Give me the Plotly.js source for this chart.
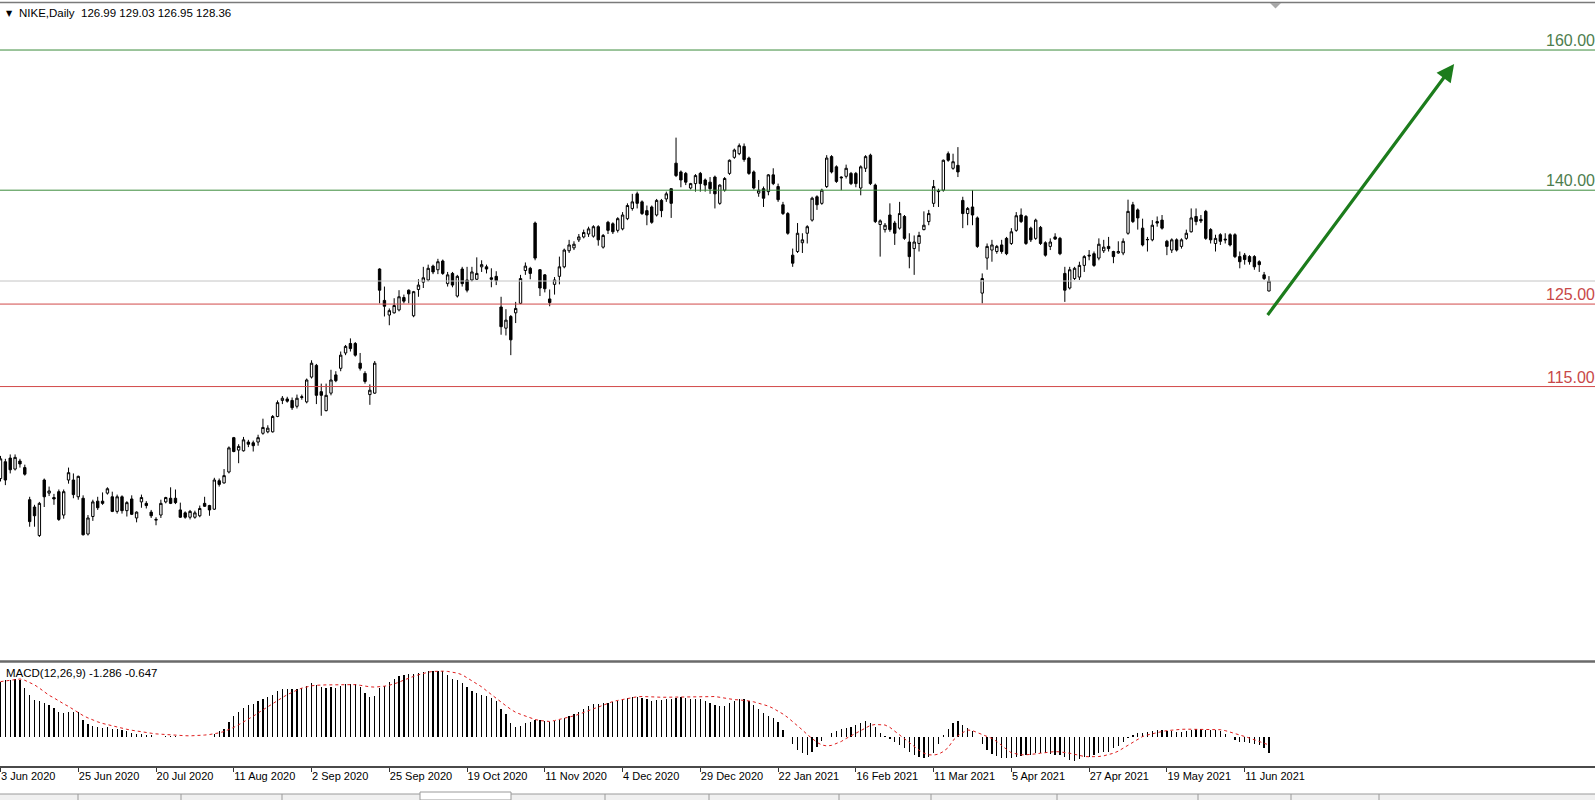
<!DOCTYPE html>
<html>
<head>
<meta charset="utf-8">
<script src="https://cdn.plot.ly/plotly-3.0.1.min.js"></script>
<style>
  html, body { margin: 0; padding: 0; background: #ffffff; }
  #chart { width: 1595px; height: 800px; }
</style>
</head>
<body>
<div id="chart"></div>
<script>
// ---------------- DATA ----------------
const symbolTitle = 'NIKE,Daily';
const lastQuote = ['126.99', '129.03', '126.95', '128.36'];
const macdTitle = 'MACD(12,26,9) -1.286 -0.647';

// daily bars, index 0 = 3 Jun 2020 ... index 261 = 18 Jun 2021
const opens = [
  101.3,103.6,104.1,102.6,103.7,102.8,98.4,97.4,93.5,101.1,
  99.3,98.7,99.5,96.3,101.1,101.1,98.8,98.6,93.7,96.1,
  98.2,98.2,99.3,98.8,96.8,98.8,96.9,98.5,95.9,98.1,
  97.9,96.7,95.6,96.3,98.1,98.6,98.6,97.0,96.6,96.0,
  96.0,96.2,97.9,97.6,97.1,101.0,100.7,102.2,106.9,105.2,
  105.1,106.3,106.2,106.3,107.5,107.7,107.7,109.8,112.0,112.2,
  112.0,111.2,112.4,111.8,115.2,116.8,113.2,110.6,113.0,115.5,
  116.4,118.5,119.8,119.8,117.1,115.7,112.8,113.0,130.0,125.7,
  123.7,124.0,124.4,126.1,127.1,123.6,127.2,128.2,128.5,130.4,
  129.9,131.1,128.0,129.4,126.3,130.0,128.5,128.5,128.6,130.3,
  130.3,128.8,129.0,124.8,121.9,123.5,124.0,125.3,129.8,130.1,
  136.3,129.9,129.2,125.9,127.9,129.0,130.3,132.5,132.9,134.0,
  134.4,134.8,134.5,135.8,133.0,136.4,136.2,135.3,135.5,136.9,
  138.3,140.3,139.2,138.0,138.5,137.4,139.4,139.6,141.0,144.5,
  143.3,143.1,141.1,141.7,143.1,142.2,141.9,142.6,139.0,140.8,
  143.1,145.3,145.8,146.8,145.2,143.3,140.4,141.0,140.6,142.9,
  141.3,138.8,137.6,131.9,132.4,133.6,134.9,136.7,139.9,139.0,
  141.3,145.4,144.0,142.6,142.7,143.1,143.1,141.1,143.8,145.6,
  141.5,136.1,135.4,137.4,136.3,135.6,137.2,133.7,132.8,133.5,
  135.4,136.5,139.0,140.6,140.8,145.8,143.8,144.2,139.4,137.6,
  138.5,137.0,126.7,131.5,132.6,132.4,133.3,134.2,133.5,135.3,
  137.4,137.2,135.6,134.2,135.7,133.6,133.1,134.4,134.2,129.4,
  127.4,128.7,128.9,130.5,131.9,132.1,131.5,132.5,133.1,132.4,
  132.2,132.2,134.9,138.8,138.1,135.6,134.0,134.0,136.5,136.7,
  133.8,132.6,134.0,133.1,134.2,135.1,137.2,136.8,137.9,135.4,
  133.5,134.7,134.1,134.7,134.7,131.7,131.9,131.7,131.7,131.0,
  129.2,126.99
];
const highs = [
  104.4,104.0,104.6,104.6,104.0,103.2,98.8,97.7,98.1,101.3,
  100.2,99.2,99.8,99.8,102.8,102.0,101.7,99.0,96.3,98.4,
  98.8,99.4,100.1,99.5,99.1,99.0,98.2,99.0,96.8,99.1,
  98.2,97.0,96.0,98.4,98.8,100.1,99.8,98.0,96.8,97.0,
  96.9,97.6,98.8,97.7,101.4,101.3,102.6,105.7,107.0,106.0,
  107.0,106.6,106.5,107.3,109.5,108.6,110.0,112.0,112.6,112.5,
  112.4,112.8,112.8,115.0,117.5,117.0,114.3,114.3,116.2,116.0,
  118.7,119.6,120.5,120.0,118.5,116.0,114.2,117.4,130.1,127.6,
  124.6,126.0,127.1,126.5,127.2,127.0,128.6,130.3,130.6,130.6,
  131.4,131.3,129.6,129.6,129.2,130.3,130.3,130.3,131.6,131.2,
  130.6,130.1,129.7,126.2,124.5,123.7,125.5,129.2,130.9,130.3,
  136.5,130.0,129.3,127.2,128.9,131.7,132.8,134.0,133.8,134.8,
  135.4,135.8,136.0,136.0,134.8,136.6,136.4,137.1,137.8,139.0,
  140.3,140.6,139.4,138.7,138.7,139.6,139.6,140.6,141.0,148.0,
  143.5,143.3,141.8,143.0,143.3,142.4,142.6,142.8,141.6,142.6,
  145.0,146.5,147.2,147.2,145.4,143.5,142.2,141.3,143.0,143.8,
  141.7,139.2,137.8,132.8,136.3,134.9,136.0,139.9,140.1,141.0,
  145.6,145.6,144.2,142.7,144.3,143.3,143.3,144.2,145.6,145.8,
  141.7,136.8,136.3,139.0,136.6,139.2,137.4,134.9,134.6,135.1,
  137.9,138.1,142.2,141.0,145.0,146.1,145.8,146.7,139.9,138.5,
  140.8,137.2,129.4,133.5,134.0,133.3,134.0,134.4,135.6,137.8,
  138.3,137.4,135.8,136.9,135.9,133.8,134.2,134.9,134.4,130.3,
  130.3,130.3,131.0,131.9,132.6,132.4,134.2,134.0,134.4,132.5,
  133.8,134.2,139.5,139.2,138.3,136.9,134.4,136.7,137.2,137.4,
  134.0,134.2,134.2,134.2,135.4,138.3,138.3,137.4,138.1,135.6,
  134.7,134.9,134.9,134.9,134.9,132.4,132.2,131.9,131.9,131.2,
  129.6,129.03
];
const lows = [
  100.9,100.4,102.0,102.4,102.8,101.7,94.7,94.7,93.3,97.4,
  98.9,97.7,95.5,95.8,100.6,98.6,98.4,93.5,93.5,95.5,
  97.0,97.7,99.1,96.7,96.5,96.5,96.1,96.3,95.3,97.3,
  97.2,95.9,94.9,95.9,97.9,97.8,97.8,95.9,95.8,95.7,
  95.8,96.0,97.4,96.2,97.0,100.2,100.6,102.0,104.9,103.4,
  105.0,105.6,105.0,105.8,107.3,107.5,107.6,109.7,111.5,111.7,
  110.7,110.9,112.1,111.6,115.0,111.5,109.9,110.5,112.7,114.5,
  116.0,118.2,118.7,118.0,116.1,114.3,111.4,112.9,125.3,123.5,
  122.3,123.9,124.2,125.3,125.3,123.4,126.2,127.4,128.3,129.3,
  129.3,129.2,127.6,127.5,126.1,127.6,126.8,128.3,128.5,129.6,
  129.4,127.5,127.8,121.0,120.9,118.2,122.6,125.2,129.2,128.6,
  131.2,126.3,126.8,124.9,126.5,127.9,130.1,132.2,132.6,133.7,
  134.2,134.4,134.3,133.2,132.8,134.8,134.8,135.0,135.3,136.7,
  138.0,138.3,137.4,136.0,136.2,137.2,137.1,139.2,137.0,142.6,
  141.2,141.5,140.9,140.6,140.6,140.6,140.3,138.3,138.8,140.6,
  142.9,145.1,145.6,144.7,142.9,140.9,139.9,138.5,140.1,141.5,
  139.2,137.4,134.7,130.3,132.2,132.2,133.5,136.5,138.1,138.8,
  141.1,143.1,141.8,140.8,142.4,141.5,141.2,140.1,143.3,141.5,
  136.3,131.7,135.0,135.1,133.3,135.4,134.0,130.1,129.2,132.4,
  135.3,136.0,138.5,138.5,140.6,144.7,143.6,142.6,135.6,136.0,
  136.0,132.9,125.3,129.9,131.0,132.1,132.1,131.9,133.3,135.1,
  136.3,133.3,133.7,134.0,133.3,131.7,132.6,134.0,131.9,125.5,
  127.2,128.5,128.5,129.6,131.2,130.3,131.2,132.2,132.4,130.8,
  132.1,131.9,134.7,136.3,135.4,133.1,132.4,133.8,135.8,135.4,
  131.9,132.2,132.4,132.8,134.0,135.0,136.0,136.3,134.0,133.5,
  132.4,133.3,133.5,133.1,131.5,130.1,130.6,130.6,129.9,129.6,
  128.5,126.95
];
const closes = [
  104.0,101.1,102.5,104.2,103.3,101.9,95.4,96.2,97.9,98.8,
  99.6,98.5,95.7,99.5,102.1,99.1,101.6,93.6,95.9,98.1,
  97.3,97.9,99.9,96.8,98.8,96.9,98.0,96.4,96.7,98.7,
  97.6,96.2,95.7,97.9,98.7,97.9,98.0,96.0,96.0,96.8,
  96.6,97.2,97.5,97.0,101.1,100.5,101.7,105.5,105.0,105.7,
  106.6,106.0,105.8,106.9,108.3,108.2,109.8,111.7,112.3,111.9,
  111.0,112.3,112.5,114.8,117.1,112.7,112.7,112.7,114.8,114.7,
  118.2,119.4,119.1,118.2,116.4,114.6,113.4,117.1,127.1,124.9,
  124.3,125.0,126.2,125.6,126.6,126.9,127.8,128.8,130.1,129.6,
  131.0,129.4,129.2,127.8,129.0,128.0,127.1,129.6,129.4,130.6,
  130.0,128.6,128.4,122.1,123.0,120.3,124.6,128.7,130.4,129.4,
  131.5,127.4,127.3,125.4,128.5,130.3,132.6,133.3,133.4,134.4,
  135.0,135.5,135.8,134.0,134.6,135.3,135.1,136.9,137.4,138.7,
  139.2,139.0,137.6,137.4,136.4,139.4,138.0,140.3,139.0,142.8,
  142.2,141.9,141.7,142.8,141.7,141.5,141.0,140.3,141.5,142.4,
  144.9,146.3,146.9,145.0,143.1,141.1,140.8,139.7,142.9,141.7,
  139.5,137.6,134.9,130.8,134.9,134.0,135.8,139.7,138.8,140.8,
  145.2,143.3,142.0,142.5,143.8,141.7,141.7,144.0,145.4,141.7,
  136.5,136.6,136.0,135.4,134.9,137.6,134.2,131.7,133.7,134.6,
  136.0,137.6,141.3,140.7,144.9,144.9,144.7,143.3,137.6,138.3,
  137.4,133.1,128.7,133.1,133.3,133.1,132.4,132.1,135.1,137.3,
  136.5,133.5,134.0,136.7,133.5,131.9,133.7,134.1,132.1,127.1,
  129.9,130.1,130.5,131.7,131.8,130.5,133.4,133.0,132.8,131.7,
  132.4,133.8,137.9,136.5,137.0,133.3,134.05,136.0,136.3,135.6,
  133.1,134.0,132.6,134.0,134.9,137.0,136.5,136.6,134.2,134.0,
  134.2,133.8,134.0,133.3,131.7,131.0,131.3,131.0,130.3,130.6,
  128.7,128.36
];
// MACD main (histogram) and signal (dotted line)
const macdMain = [
  4.2,4.3,4.3,4.4,4.3,3.7,3.2,2.8,2.7,2.55,
  2.4,2.2,1.9,1.8,1.9,1.9,1.85,1.3,0.95,0.8,
  0.7,0.65,0.7,0.6,0.6,0.5,0.4,0.3,0.2,0.2,
  0.15,0.08,0.0,-0.02,0.02,0.05,0.05,-0.03,-0.06,-0.05,
  -0.06,-0.04,-0.02,-0.05,0.2,0.4,0.6,1.1,1.6,1.9,
  2.2,2.4,2.5,2.7,2.9,3.0,3.2,3.45,3.6,3.65,
  3.6,3.65,3.7,3.85,4.1,3.95,3.8,3.7,3.75,3.7,
  3.85,4.0,4.05,4.0,3.75,3.35,3.0,3.1,3.7,3.9,
  4.2,4.4,4.6,4.7,4.8,4.8,4.85,4.9,5.0,5.05,
  5.05,5.0,4.7,4.4,4.3,4.1,3.8,3.5,3.3,3.2,
  3.1,2.95,2.7,2.1,1.7,1.0,0.7,0.8,1.0,1.1,
  1.3,1.25,1.15,1.1,1.2,1.3,1.45,1.6,1.75,1.9,
  2.1,2.3,2.45,2.5,2.55,2.6,2.65,2.75,2.85,2.95,
  3.05,3.05,2.95,2.85,2.75,2.8,2.8,2.85,2.85,2.95,
  3.0,2.95,2.9,2.9,2.85,2.7,2.55,2.4,2.35,2.35,
  2.55,2.75,2.9,2.85,2.7,2.4,2.1,1.8,1.6,1.4,
  1.1,0.5,0.0,-0.6,-1.0,-1.3,-1.4,-1.15,-0.8,-0.35,
  0.0,0.25,0.45,0.55,0.65,0.75,0.85,1.0,1.15,1.05,
  0.7,0.25,0.05,-0.2,-0.45,-0.65,-0.85,-1.15,-1.4,-1.6,
  -1.65,-1.6,-1.25,-0.6,0.15,0.6,1.0,1.15,0.9,0.65,
  0.4,0.0,-0.55,-1.0,-1.35,-1.5,-1.62,-1.66,-1.62,-1.55,
  -1.5,-1.45,-1.4,-1.3,-1.28,-1.3,-1.32,-1.4,-1.45,-1.55,
  -1.8,-1.9,-1.7,-1.6,-1.55,-1.45,-1.3,-1.2,-1.15,-0.85,
  -0.7,-0.4,-0.1,0.15,0.3,0.3,0.38,0.4,0.46,0.5,
  0.45,0.4,0.38,0.38,0.42,0.46,0.56,0.54,0.5,0.47,
  0.46,0.42,0.2,-0.05,-0.25,-0.4,-0.45,-0.5,-0.6,-0.65,
  -0.85,-1.286
];
const macdSignal = [
  4.2,4.25,4.3,4.35,4.4,4.3,4.15,3.95,3.7,3.4,
  3.15,2.95,2.7,2.5,2.3,2.05,1.8,1.6,1.42,1.25,
  1.12,1.0,0.9,0.8,0.72,0.64,0.55,0.48,0.41,0.35,
  0.3,0.25,0.2,0.17,0.14,0.11,0.09,0.07,0.06,0.05,
  0.06,0.08,0.11,0.15,0.2,0.28,0.38,0.52,0.7,0.9,
  1.1,1.32,1.55,1.8,2.05,2.3,2.52,2.75,2.98,3.2,
  3.4,3.55,3.7,3.8,3.88,3.92,3.95,3.95,3.95,3.95,
  3.97,4.0,3.99,3.97,3.92,3.85,3.8,3.78,3.8,3.85,
  3.92,4.02,4.15,4.32,4.48,4.6,4.72,4.83,4.92,4.98,
  5.0,5.0,4.98,4.92,4.85,4.72,4.5,4.3,4.05,3.8,
  3.5,3.2,2.9,2.6,2.35,2.08,1.85,1.7,1.55,1.4,
  1.3,1.22,1.16,1.15,1.22,1.3,1.38,1.48,1.58,1.7,
  1.82,1.98,2.12,2.25,2.4,2.55,2.68,2.76,2.83,2.9,
  2.98,3.04,3.06,3.06,3.04,3.02,3.0,3.0,3.0,3.0,
  3.0,3.0,3.0,3.0,3.0,3.03,3.05,3.06,3.0,2.9,
  2.85,2.82,2.8,2.78,2.72,2.65,2.56,2.45,2.33,2.15,
  1.95,1.72,1.45,1.15,0.85,0.5,0.15,-0.15,-0.45,-0.65,
  -0.72,-0.68,-0.52,-0.38,-0.15,0.05,0.25,0.45,0.65,0.85,
  0.92,0.92,0.88,0.7,0.4,0.13,-0.15,-0.45,-0.77,-1.05,
  -1.28,-1.4,-1.42,-1.35,-1.15,-0.85,-0.3,0.05,0.3,0.5,
  0.45,0.3,0.2,0.05,-0.15,-0.38,-0.7,-0.98,-1.25,-1.35,
  -1.4,-1.4,-1.38,-1.33,-1.28,-1.22,-1.18,-1.15,-1.18,-1.22,
  -1.28,-1.36,-1.44,-1.53,-1.55,-1.55,-1.53,-1.48,-1.4,-1.28,
  -1.12,-0.9,-0.64,-0.4,-0.18,0.0,0.12,0.22,0.3,0.38,
  0.45,0.5,0.52,0.55,0.56,0.56,0.56,0.56,0.56,0.56,
  0.55,0.52,0.45,0.35,0.25,0.12,0.0,-0.12,-0.25,-0.38,
  -0.5,-0.647
];
// time-scale labels (every 16 bars)
const tickIdx = [0,16,32,48,64,80,96,112,128,144,160,176,192,208,224,240,256];
const tickLabels = ['3 Jun 2020','25 Jun 2020','20 Jul 2020','11 Aug 2020','2 Sep 2020','25 Sep 2020',
  '19 Oct 2020','11 Nov 2020','4 Dec 2020','29 Dec 2020','22 Jan 2021','16 Feb 2021','11 Mar 2021',
  '5 Apr 2021','27 Apr 2021','19 May 2021','11 Jun 2021'];
// horizontal levels drawn on the chart (price position) and their captions
const levelPrices = [160.0, 140.8, 125.2, 113.9];
const levelLabels = ['160.00', '140.00', '125.00', '115.00'];
const levelKinds = ['up', 'up', 'down', 'down'];
const bidPrice = 128.36;
// trend arrow: [bar index, price] tail -> tip
const arrowTail = [260.5, 123.5];
const arrowTip = [299.1, 158.1];

// ---------------- STYLE / LAYOUT ----------------
const W = 1595, H = 800, PLOT_H = 766;
const py = p => (PLOT_H - p) / PLOT_H;         // pixel row -> paper y
const pxp = p => p / W;                          // pixel col -> paper x
const FONT = 'Liberation Sans, Arial, sans-serif';
const GREEN_LINE = '#3b8b3b', GREEN_TXT = '#4d7d4d';
const RED_LINE = '#d24a4a', RED_TXT = '#c84848';

const idx = opens.map((_, i) => i);

const traces = [
  {
    type: 'candlestick', x: idx, open: opens, high: highs, low: lows, close: closes,
    xaxis: 'x', yaxis: 'y',
    increasing: { line: { color: '#000000', width: 1 }, fillcolor: '#ffffff' },
    decreasing: { line: { color: '#000000', width: 1 }, fillcolor: '#000000' },
    whiskerwidth: 0, hoverinfo: 'skip', showlegend: false
  },
  {
    type: 'bar', x: idx, y: macdMain, xaxis: 'x', yaxis: 'y2',
    width: 0.26, marker: { color: '#000000', line: { width: 0 } },
    hoverinfo: 'skip', showlegend: false
  },
  {
    type: 'scatter', mode: 'lines', x: idx, y: macdSignal, xaxis: 'x', yaxis: 'y2',
    line: { color: '#e01e1e', width: 1, dash: 'dot' },
    hoverinfo: 'skip', showlegend: false
  }
];

const shapes = [];
const annotations = [];

// level lines + captions
levelPrices.forEach((p, k) => {
  const up = levelKinds[k] === 'up';
  shapes.push({ type: 'line', xref: 'paper', yref: 'y', x0: 0, x1: 1, y0: p, y1: p,
    line: { color: up ? GREEN_LINE : RED_LINE, width: 1 } });
  annotations.push({ xref: 'paper', yref: 'y', x: 1, y: p, xanchor: 'right', yanchor: 'bottom',
    xshift: 2, yshift: -1, showarrow: false, text: levelLabels[k],
    font: { family: FONT, size: 16, color: up ? GREEN_TXT : RED_TXT } });
});
// bid line
shapes.push({ type: 'line', xref: 'paper', yref: 'y', x0: 0, x1: 1, y0: bidPrice, y1: bidPrice,
  line: { color: '#c4c4c4', width: 1 } });

// window frame decorations
shapes.push({ type: 'line', xref: 'paper', yref: 'paper', x0: 0, x1: 1, y0: py(2.5), y1: py(2.5),
  line: { color: '#7a7a7a', width: 1.5 } });
shapes.push({ type: 'line', xref: 'paper', yref: 'paper', x0: 0, x1: 1, y0: py(661.5), y1: py(661.5),
  line: { color: '#6a6a6a', width: 2.5 } });
shapes.push({ type: 'line', xref: 'paper', yref: 'paper', x0: 0, x1: 1, y0: py(767), y1: py(767),
  line: { color: '#4a4a4a', width: 2 } });
// bottom tab strip
shapes.push({ type: 'rect', xref: 'paper', yref: 'paper', x0: 0, x1: 1, y0: py(800), y1: py(794),
  fillcolor: '#f0f0f0', line: { width: 0 } });
shapes.push({ type: 'line', xref: 'paper', yref: 'paper', x0: 0, x1: pxp(420), y0: py(794), y1: py(794),
  line: { color: '#9a9a9a', width: 1 } });
shapes.push({ type: 'line', xref: 'paper', yref: 'paper', x0: pxp(511), x1: 1, y0: py(794), y1: py(794),
  line: { color: '#9a9a9a', width: 1 } });
shapes.push({ type: 'rect', xref: 'paper', yref: 'paper', x0: pxp(420), x1: pxp(511), y0: py(800), y1: py(792),
  fillcolor: '#ffffff', line: { color: '#9a9a9a', width: 1 } });
[78, 181, 282, 605, 709, 839, 931, 1057, 1198, 1291, 1379].forEach(xp => {
  shapes.push({ type: 'line', xref: 'paper', yref: 'paper', x0: pxp(xp), x1: pxp(xp), y0: py(794), y1: py(800),
    line: { color: '#9a9a9a', width: 1 } });
});
// chart-shift marker at the top
shapes.push({ type: 'path', xref: 'paper', yref: 'paper',
  path: `M ${pxp(1270)} ${py(3)} L ${pxp(1281)} ${py(3)} L ${pxp(1275.5)} ${py(8.5)} Z`,
  fillcolor: '#a8a8a8', line: { width: 0 } });

// titles
annotations.push({ xref: 'paper', yref: 'paper', x: pxp(4), y: py(13), xanchor: 'left', yanchor: 'middle',
  showarrow: false, text: '▼', font: { family: 'DejaVu Sans, sans-serif', size: 8, color: '#000000' } });
annotations.push({ xref: 'paper', yref: 'paper', x: pxp(17), y: py(13), xanchor: 'left', yanchor: 'middle',
  showarrow: false, text: symbolTitle + '&nbsp;&nbsp;' + lastQuote.join(' '),
  font: { family: FONT, size: 11.5, color: '#000000' } });
annotations.push({ xref: 'paper', yref: 'paper', x: pxp(4), y: py(673), xanchor: 'left', yanchor: 'middle',
  showarrow: false, text: macdTitle, font: { family: FONT, size: 11.5, color: '#000000' } });

// trend arrow
annotations.push({ xref: 'x', yref: 'y', axref: 'x', ayref: 'y',
  x: arrowTip[0], y: arrowTip[1], ax: arrowTail[0], ay: arrowTail[1],
  showarrow: true, text: '', arrowhead: 2, arrowsize: 1.1, arrowwidth: 3.2, arrowcolor: '#1c7c1c', standoff: 0 });

// axis ranges derived from the picture's scale
const PX_PER_BAR = 4.86, X0 = 0.5;
const PX_PER_USD = 7.3, BID_ROW = 281;
const priceAt = p => bidPrice - (p - BID_ROW) / PX_PER_USD;
const MACD_ZERO_ROW = 736.5, PX_PER_MACD = 13.07;
const macdAt = p => (MACD_ZERO_ROW - p) / PX_PER_MACD;
const SPLIT = 663;

const layout = {
  width: W, height: H,
  margin: { l: 0, r: 0, t: 0, b: H - PLOT_H, pad: 0 },
  paper_bgcolor: '#ffffff', plot_bgcolor: '#ffffff',
  showlegend: false, dragmode: false, hovermode: false,
  xaxis: {
    anchor: 'y2', range: [(0 - X0) / PX_PER_BAR, (W - X0) / PX_PER_BAR],
    showgrid: false, zeroline: false, showline: false,
    tickmode: 'array', tickvals: tickIdx, ticktext: tickLabels,
    ticks: 'outside', ticklen: 5, tickwidth: 1, tickcolor: '#333333',
    ticklabelposition: 'outside right',
    tickfont: { family: FONT, size: 11, color: '#000000' },
    rangeslider: { visible: false }, fixedrange: true
  },
  yaxis: {
    domain: [py(SPLIT), 1], range: [priceAt(SPLIT), priceAt(0)],
    showgrid: false, zeroline: false, showticklabels: false, ticks: '', showline: false, fixedrange: true
  },
  yaxis2: {
    domain: [0, py(SPLIT)], range: [macdAt(PLOT_H), macdAt(SPLIT)],
    showgrid: false, zeroline: false, showticklabels: false, ticks: '', showline: false, fixedrange: true
  },
  bargap: 0,
  shapes: shapes,
  annotations: annotations
};

Plotly.newPlot('chart', traces, layout, { staticPlot: true, displayModeBar: false });
</script>
</body>
</html>
